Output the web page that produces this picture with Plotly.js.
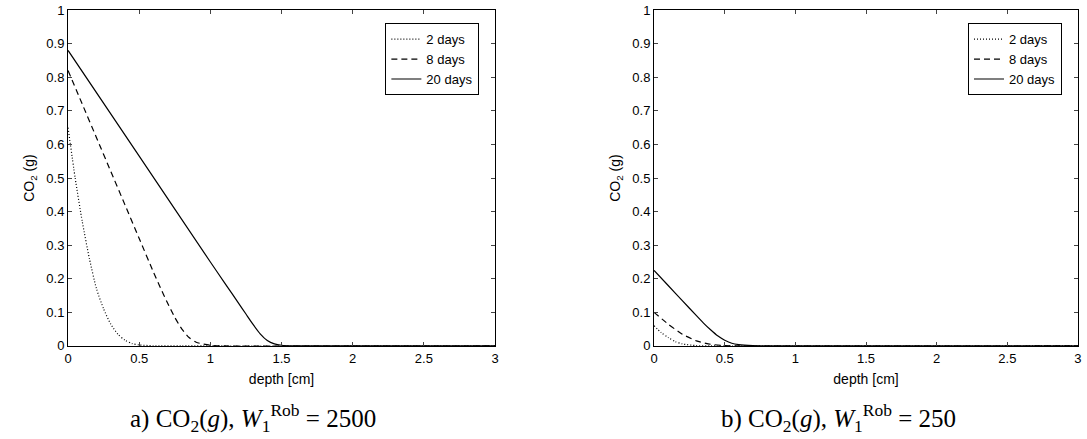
<!DOCTYPE html>
<html>
<head>
<script src="https://cdn.plot.ly/plotly-3.0.1.min.js"></script>
<style>body{margin:0;background:#fff}</style>
</head>
<body>
<div id="chart" style="width:1087px;height:439px"></div>
<script>
// panel a) W1 = 2500
const aDay2X = [0, 0.05, 0.1, 0.15, 0.2, 0.25, 0.3, 0.35, 0.4, 0.45, 0.5, 0.6, 0.8, 3];
const aDay2Y = [0.65, 0.5, 0.37, 0.26, 0.17, 0.11, 0.065, 0.035, 0.017, 0.007, 0.003, 0.0005, 0, 0];
const aDay8X = [0, 0.1, 0.2, 0.3, 0.4, 0.5, 0.6, 0.65, 0.7, 0.75, 0.8, 0.85, 0.9, 1.0, 1.1, 3];
const aDay8Y = [0.82, 0.72, 0.62, 0.52, 0.42, 0.32, 0.22, 0.172, 0.127, 0.085, 0.05, 0.025, 0.011, 0.002, 0, 0];
const aDay20X = [0, 0.5, 1.0, 1.1, 1.15, 1.2, 1.25, 1.3, 1.35, 1.4, 1.45, 1.5, 1.6, 3];
const aDay20Y = [0.88, 0.565, 0.25, 0.188, 0.157, 0.126, 0.095, 0.064, 0.036, 0.016, 0.006, 0.002, 0, 0];
// panel b) W1 = 250
const bDay2X = [0, 0.05, 0.1, 0.15, 0.2, 0.3, 0.4, 3];
const bDay2Y = [0.06, 0.04, 0.025, 0.013, 0.006, 0.001, 0, 0];
const bDay8X = [0, 0.1, 0.2, 0.3, 0.4, 0.5, 0.6, 3];
const bDay8Y = [0.1, 0.065, 0.035, 0.015, 0.005, 0.001, 0, 0];
const bDay20X = [0, 0.1, 0.2, 0.3, 0.35, 0.4, 0.45, 0.5, 0.55, 0.6, 0.7, 0.8, 3];
const bDay20Y = [0.225, 0.18, 0.135, 0.09, 0.068, 0.048, 0.03, 0.017, 0.008, 0.004, 0.001, 0, 0];

const names = ['2 days', '8 days', '20 days'];
const dashes = ['1px,2px', '6px,4px', 'solid'];

function series(xs, ys, ax, leg) {
  return xs.map((x, i) => ({
    x, y: ys[i], name: names[i], type: 'scatter', mode: 'lines',
    xaxis: ax[0], yaxis: ax[1], legend: leg,
    line: {color: '#000', width: 1.2, dash: dashes[i], shape: 'spline', smoothing: 0.6},
  }));
}

const data = [
  ...series([aDay2X, aDay8X, aDay20X], [aDay2Y, aDay8Y, aDay20Y], ['x', 'y'], 'legend'),
  ...series([bDay2X, bDay8X, bDay20X], [bDay2Y, bDay8Y, bDay20Y], ['x2', 'y2'], 'legend2'),
];

const tickFont = {family: 'Liberation Sans, Arial', size: 13, color: '#000'};
const titleFont = {family: 'Liberation Sans, Arial', size: 14, color: '#000'};
const xBase = {
  range: [0, 3], dtick: 0.5, ticks: 'inside', ticklen: 4, mirror: 'ticks',
  showline: true, linecolor: '#000', linewidth: 1, showgrid: false, zeroline: false,
  tickfont: tickFont, title: {text: 'depth [cm]', font: titleFont, standoff: 9},
};
const yBase = {
  range: [0, 1], dtick: 0.1, ticks: 'inside', ticklen: 4, mirror: 'ticks',
  showline: true, linecolor: '#000', linewidth: 1, showgrid: false, zeroline: false,
  tickfont: tickFont, title: {text: 'CO<sub>2</sub> (g)', font: titleFont, standoff: 8},
};
const legBase = {
  bgcolor: '#fff', bordercolor: '#000', borderwidth: 1,
  font: tickFont, xanchor: 'right', yanchor: 'top', tracegroupgap: 0,
};
const capFont = {family: 'Liberation Serif, DejaVu Serif', size: 25, color: '#000'};

const layout = {
  margin: {l: 0, r: 0, t: 0, b: 0},
  paper_bgcolor: '#fff', plot_bgcolor: '#fff',
  showlegend: true,
  xaxis: {...xBase, domain: [0.0626, 0.4554], anchor: 'y'},
  yaxis: {...yBase, domain: [0.212, 0.977], anchor: 'x'},
  xaxis2: {...xBase, domain: [0.6017, 0.9917], anchor: 'y2'},
  yaxis2: {...yBase, domain: [0.212, 0.977], anchor: 'x2'},
  legend: {...legBase, x: 0.441, y: 0.947},
  legend2: {...legBase, x: 0.977, y: 0.947},
  annotations: [
    {text: 'a) CO<sub>2</sub>(<i>g</i>), <i>W</i><sub>1</sub><sup>Rob</sup> = 2500', x: 0.233, y: 0.048,
      xref: 'paper', yref: 'paper', xanchor: 'center', yanchor: 'middle', showarrow: false, font: capFont},
    {text: 'b) CO<sub>2</sub>(<i>g</i>), <i>W</i><sub>1</sub><sup>Rob</sup> = 250', x: 0.771, y: 0.048,
      xref: 'paper', yref: 'paper', xanchor: 'center', yanchor: 'middle', showarrow: false, font: capFont},
  ],
};

Plotly.newPlot('chart', data, layout, {displayModeBar: false, staticPlot: true});
</script>
</body>
</html>
